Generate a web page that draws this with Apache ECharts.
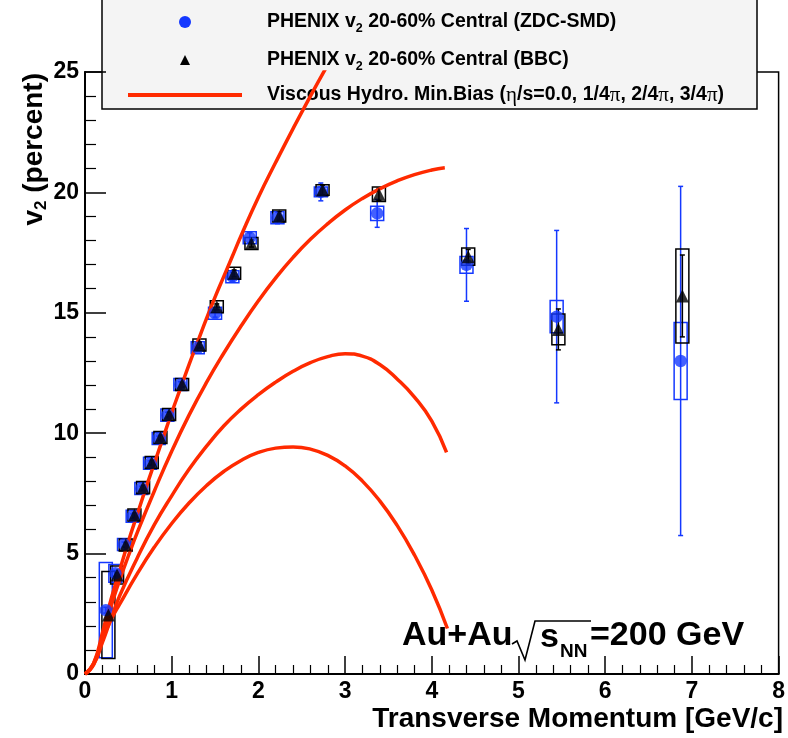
<!DOCTYPE html>
<html>
<head>
<meta charset="utf-8">
<script src="https://cdn.jsdelivr.net/npm/echarts@6/dist/echarts.min.js"></script>
<style>
  html, body { margin: 0; padding: 0; background: #fff; }
  #chart { width: 788px; height: 738px; }
</style>
</head>
<body>
<div id="chart"></div>
<script>
// PHENIX v2 (ZDC-SMD event plane), 20-60% central
const ptZdc   = [0.24, 0.35, 0.45, 0.55, 0.65, 0.75, 0.85, 0.95, 1.10, 1.30, 1.50, 1.70, 1.90, 2.22, 2.72, 3.37, 4.40, 5.44, 6.87];
const v2Zdc   = [2.65, 4.18, 5.38, 6.55, 7.70, 8.75, 9.78, 10.75, 12.02, 13.55, 14.98, 16.50, 18.12, 18.95, 20.02, 19.13, 16.99, 14.84, 13.00];
const statZdc = [0.12, 0.12, 0.10, 0.10, 0.10, 0.10, 0.10, 0.12, 0.12, 0.14, 0.16, 0.18, 0.20, 0.25, 0.37, 0.58, 1.51, 3.58, 7.25];
const sysZdc  = [1.98, 0.37, 0.25, 0.25, 0.25, 0.25, 0.25, 0.25, 0.25, 0.25, 0.25, 0.25, 0.25, 0.25, 0.20, 0.30, 0.35, 0.67, 1.60];

// PHENIX v2 (BBC event plane), 20-60% central
const ptBbc   = [0.27, 0.37, 0.47, 0.57, 0.67, 0.77, 0.87, 0.97, 1.12, 1.32, 1.52, 1.72, 1.92, 2.24, 2.74, 3.39, 4.42, 5.46, 6.89];
const v2Bbc   = [2.45, 4.11, 5.36, 6.60, 7.74, 8.78, 9.82, 10.78, 12.02, 13.66, 15.25, 16.64, 17.88, 19.02, 20.10, 19.92, 17.33, 14.31, 15.70];
const statBbc = [0.10, 0.10, 0.10, 0.10, 0.10, 0.10, 0.10, 0.10, 0.10, 0.12, 0.12, 0.14, 0.15, 0.18, 0.20, 0.25, 0.30, 0.85, 1.70];
const sysBbc  = [1.81, 0.37, 0.25, 0.25, 0.25, 0.25, 0.25, 0.25, 0.25, 0.25, 0.25, 0.25, 0.25, 0.25, 0.22, 0.30, 0.36, 0.64, 1.95];

// Viscous hydro, minimum bias: eta/s = 0, 1/4pi, 2/4pi, 3/4pi
const hydroPt0 = [0, 0.1, 0.2, 0.3, 0.4, 0.5, 0.6, 0.7, 0.8, 0.9, 1.0, 1.1, 1.2, 1.3, 1.4, 1.5, 1.6, 1.7, 1.8, 2.0, 2.2, 2.4, 2.6, 2.8];
const hydroV0  = [0, 0.45, 1.7, 3.1, 4.3, 5.5, 6.6, 7.7, 8.75, 9.8, 10.85, 11.85, 12.85, 13.8, 14.75, 15.65, 16.5, 17.35, 18.2, 19.8, 21.25, 22.65, 24.0, 25.3];
const hydroPt1 = [0, 0.1, 0.2, 0.3, 0.4, 0.5, 0.6, 0.8, 1.0, 1.2, 1.4, 1.6, 1.8, 2.0, 2.2, 2.4, 2.6, 2.8, 3.0, 3.2, 3.4, 3.6, 3.8, 4.0, 4.15];
const hydroV1  = [0, 0.4, 1.5, 2.8, 3.9, 4.9, 5.85, 7.6, 9.25, 10.75, 12.1, 13.32, 14.45, 15.5, 16.45, 17.3, 18.05, 18.7, 19.27, 19.75, 20.15, 20.48, 20.74, 20.93, 21.02];
const hydroPt2 = [0, 0.1, 0.2, 0.3, 0.4, 0.6, 0.8, 1.0, 1.2, 1.4, 1.6, 1.8, 2.0, 2.2, 2.4, 2.6, 2.8, 3.0, 3.2, 3.4, 3.6, 3.8, 4.0, 4.17];
const hydroV2  = [0, 0.4, 1.3, 2.3, 3.25, 4.8, 6.2, 7.4, 8.5, 9.45, 10.3, 11.0, 11.6, 12.12, 12.57, 12.93, 13.18, 13.3, 13.2, 12.85, 12.25, 11.5, 10.5, 9.2];
const hydroPt3 = [0, 0.1, 0.2, 0.3, 0.4, 0.6, 0.8, 1.0, 1.2, 1.4, 1.6, 1.8, 2.0, 2.2, 2.4, 2.6, 2.8, 3.0, 3.2, 3.4, 3.6, 3.8, 4.0, 4.18];
const hydroV3  = [0, 0.45, 1.45, 2.25, 2.9, 4.15, 5.27, 6.25, 7.1, 7.82, 8.41, 8.87, 9.2, 9.38, 9.43, 9.34, 9.08, 8.64, 8.01, 7.19, 6.17, 4.94, 3.49, 1.89];

const xTitle = 'Transverse Momentum [GeV/c]';
const legendRows = [
  '{b|PHENIX v}{s|2}{b| 20-60% Central (ZDC-SMD)}',
  '{b|PHENIX v}{s|2}{b| 20-60% Central (BBC)}',
  '{b|Viscous Hydro. Min.Bias (}{g|η}{b|/s=0.0, 1/4}{g|π}{b|, 2/4}{g|π}{b|, 3/4}{g|π}{b|)}'
];

const FONT = "'Liberation Sans', Arial, Helvetica, sans-serif";
const BLUE = '#1438ff';
const RED = '#ff2a00';

const zip = (xs, ys) => xs.map((x, i) => [x, ys[i]]);
const zip3 = (xs, ys, es) => xs.map((x, i) => [x, ys[i], es[i]]);

function errorBars(color) {
  return function (params, api) {
    const x = api.value(0), y = api.value(1), e = api.value(2);
    const top = api.coord([x, y + e]);
    const bot = api.coord([x, y - e]);
    const st = { stroke: color, lineWidth: 1.5 };
    return {
      type: 'group',
      children: [
        { type: 'line', shape: { x1: top[0], y1: top[1], x2: bot[0], y2: bot[1] }, style: st },
        { type: 'line', shape: { x1: top[0] - 2.5, y1: top[1], x2: top[0] + 2.5, y2: top[1] }, style: st },
        { type: 'line', shape: { x1: bot[0] - 2.5, y1: bot[1], x2: bot[0] + 2.5, y2: bot[1] }, style: st }
      ]
    };
  };
}

function sysBoxes(color) {
  return function (params, api) {
    const x = api.value(0), y = api.value(1), s = api.value(2);
    const top = api.coord([x, y + s]);
    const bot = api.coord([x, y - s]);
    const w = 13;
    return {
      type: 'rect',
      shape: { x: top[0] - w / 2, y: top[1], width: w, height: bot[1] - top[1] },
      style: { fill: 'none', stroke: color, lineWidth: 1.5 }
    };
  };
}

const hydroLine = (xs, ys) => ({
  type: 'line',
  data: zip(xs, ys),
  showSymbol: false,
  smooth: 0.5,
  clip: true,
  z: 4,
  lineStyle: { color: RED, width: 3.5 },
  silent: true
});

const legendText = {
  b: { fontFamily: FONT, fontWeight: 'bold', fontSize: 19.5, lineHeight: 26, fill: '#000' },
  s: { fontFamily: FONT, fontWeight: 'bold', fontSize: 12.5, lineHeight: 12, verticalAlign: 'bottom', fill: '#000' },
  g: { fontFamily: "'Liberation Serif', 'DejaVu Serif', serif", fontWeight: 'normal', fontSize: 21, lineHeight: 26, fill: '#000' }
};

const chart = echarts.init(document.getElementById('chart'), null, { renderer: 'canvas' });

chart.setOption({
  backgroundColor: '#fff',
  animation: false,
  grid: {
    left: 85, right: 8, top: 72, bottom: 64,
    show: true, borderColor: '#000', borderWidth: 1.5, backgroundColor: '#fff'
  },
  xAxis: {
    type: 'value', min: 0, max: 8, interval: 1,
    axisLine: { lineStyle: { color: '#000', width: 2 } },
    axisTick: { inside: true, length: 18, lineStyle: { color: '#000', width: 1.5 } },
    minorTick: { show: true, splitNumber: 5, length: 9, lineStyle: { color: '#000', width: 1.2 } },
    splitLine: { show: false },
    axisLabel: { color: '#000', fontFamily: FONT, fontWeight: 'bold', fontSize: 23, margin: 6 }
  },
  yAxis: {
    type: 'value', min: 0, max: 25, interval: 5,
    axisLine: { lineStyle: { color: '#000', width: 2 } },
    axisTick: { inside: true, length: 21, lineStyle: { color: '#000', width: 1.5 } },
    minorTick: { show: true, splitNumber: 5, length: 11, lineStyle: { color: '#000', width: 1.2 } },
    splitLine: { show: false },
    axisLabel: { color: '#000', fontFamily: FONT, fontWeight: 'bold', fontSize: 23, margin: 6 }
  },
  series: [
    hydroLine(hydroPt0, hydroV0),
    hydroLine(hydroPt1, hydroV1),
    hydroLine(hydroPt2, hydroV2),
    hydroLine(hydroPt3, hydroV3),
    { type: 'custom', name: 'zdcSys', data: zip3(ptZdc, v2Zdc, sysZdc), renderItem: sysBoxes(BLUE), clip: true, z: 3, silent: true },
    { type: 'custom', name: 'zdcStat', data: zip3(ptZdc, v2Zdc, statZdc), renderItem: errorBars(BLUE), clip: true, z: 3, silent: true },
    { type: 'scatter', name: 'zdc', data: zip(ptZdc, v2Zdc), symbol: 'circle', symbolSize: 12.5, itemStyle: { color: BLUE }, z: 5, silent: true },
    { type: 'custom', name: 'bbcSys', data: zip3(ptBbc, v2Bbc, sysBbc), renderItem: sysBoxes('#000'), clip: true, z: 3, silent: true },
    { type: 'custom', name: 'bbcStat', data: zip3(ptBbc, v2Bbc, statBbc), renderItem: errorBars('#000'), clip: true, z: 3, silent: true },
    { type: 'scatter', name: 'bbc', data: zip(ptBbc, v2Bbc), symbol: 'triangle', symbolSize: [13, 13], itemStyle: { color: '#000' }, z: 6, silent: true }
  ],
  graphic: [
    // axis titles
    {
      type: 'text', x: 783, y: 719, z: 50,
      style: { text: xTitle, align: 'right', verticalAlign: 'middle', fontFamily: FONT, fontWeight: 'bold', fontSize: 28, fill: '#000' }
    },
    {
      type: 'text', x: 34, y: 73, rotation: Math.PI / 2, z: 50,
      style: {
        text: '{b|v}{s|2}{b| (percent)}', align: 'right', verticalAlign: 'middle',
        rich: {
          b: { fontFamily: FONT, fontWeight: 'bold', fontSize: 28, lineHeight: 32, fill: '#000' },
          s: { fontFamily: FONT, fontWeight: 'bold', fontSize: 17, lineHeight: 16, verticalAlign: 'bottom', fill: '#000' }
        }
      }
    },
    // collision system label
    {
      type: 'group', z: 50,
      children: [
        { type: 'text', x: 402, y: 636, style: { text: 'Au+Au', align: 'left', verticalAlign: 'middle', fontFamily: FONT, fontWeight: 'bold', fontSize: 34, fill: '#000' } },
        { type: 'polyline', shape: { points: [[512, 644], [517, 641], [525, 660], [535, 621], [591, 621]] }, style: { stroke: '#000', lineWidth: 1.6, fill: 'none' } },
        { type: 'text', x: 540, y: 638, style: { text: 's', align: 'left', verticalAlign: 'middle', fontFamily: FONT, fontWeight: 'bold', fontSize: 34, fill: '#000' } },
        { type: 'text', x: 560, y: 652, style: { text: 'NN', align: 'left', verticalAlign: 'middle', fontFamily: FONT, fontWeight: 'bold', fontSize: 19, fill: '#000' } },
        { type: 'text', x: 590, y: 636, style: { text: '=200 GeV', align: 'left', verticalAlign: 'middle', fontFamily: FONT, fontWeight: 'bold', fontSize: 34, fill: '#000' } }
      ]
    },
    // legend box
    {
      type: 'group', z: 100,
      children: [
        { type: 'rect', shape: { x: 102, y: -1, width: 655, height: 110 }, style: { fill: '#f4f4f4', stroke: '#000', lineWidth: 1.5 } },
        { type: 'circle', shape: { cx: 185, cy: 22, r: 6 }, style: { fill: BLUE } },
        { type: 'polygon', shape: { points: [[180, 65], [190, 65], [185, 55]] }, style: { fill: '#000' } },
        { type: 'line', shape: { x1: 128, y1: 95, x2: 242, y2: 95 }, style: { stroke: RED, lineWidth: 4 } },
        { type: 'text', x: 267, y: 22, style: { text: legendRows[0], verticalAlign: 'middle', rich: legendText } },
        { type: 'text', x: 267, y: 60, style: { text: legendRows[1], verticalAlign: 'middle', rich: legendText } },
        { type: 'text', x: 267, y: 95, style: { text: legendRows[2], verticalAlign: 'middle', rich: legendText } }
      ]
    }
  ]
});
</script>
</body>
</html>
